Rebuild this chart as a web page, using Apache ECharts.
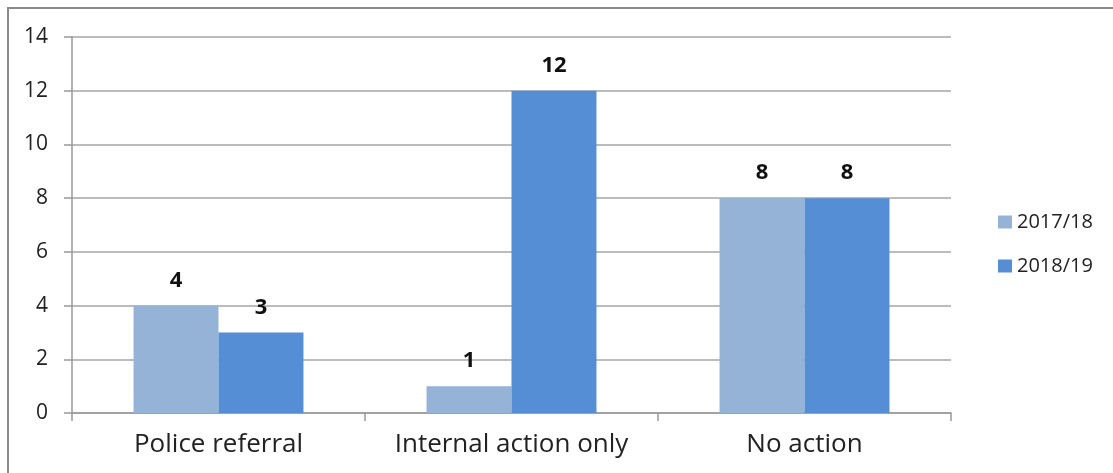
<!DOCTYPE html>
<html><head><meta charset="utf-8">
<script src="https://cdn.jsdelivr.net/npm/echarts@6/dist/echarts.min.js"></script>
<style>html,body{margin:0;padding:0;background:#fff}#c{width:1113px;height:473px}</style>
</head><body><div id="c"></div>
<script>
const categories = ['Police referral', 'Internal action only', 'No action'];
const seriesNames = ['2017/18', '2018/19'];
const values2017 = [4, 1, 8];
const values2018 = [3, 12, 8];
const colors = ['#95B3D7', '#558ED5'];
const FONT = 'Open Sans';

const chart = echarts.init(document.getElementById('c'), null, {renderer: 'canvas'});
const labelCfg = {show: true, position: 'top', distance: 14, fontFamily: FONT, fontSize: 22, fontWeight: 'bold', color: '#111'};
chart.setOption({
  animation: false,
  graphic: [{type: 'rect', shape: {x: 8, y: 8, width: 1130, height: 490}, style: {fill: 'none', stroke: '#8a8a8a', lineWidth: 2}, silent: true}],
  grid: {left: 72, right: 162, top: 37, bottom: 60},
  legend: {
    orient: 'vertical', left: 993, top: 207, itemWidth: 14, itemHeight: 13, itemGap: 24,
    icon: 'rect', textStyle: {fontFamily: FONT, fontSize: 20, color: '#222'},
    data: seriesNames
  },
  xAxis: {
    type: 'category', data: categories,
    axisLine: {lineStyle: {color: '#999', width: 1.5}},
    axisTick: {show: true, length: 8, lineStyle: {color: '#999', width: 1.5}},
    axisLabel: {interval: 0, hideOverlap: false, fontFamily: FONT, fontSize: 26, color: '#222', margin: 19}
  },
  yAxis: {
    type: 'value', min: 0, max: 14, interval: 2,
    axisLine: {show: true, lineStyle: {color: '#999', width: 1.5}},
    axisTick: {show: true, length: 8, lineStyle: {color: '#999', width: 1.5}},
    splitLine: {lineStyle: {color: '#a6a6a6', width: 1.5}},
    axisLabel: {fontFamily: FONT, fontSize: 21, color: '#222', margin: 24}
  },
  series: [
    {name: seriesNames[0], type: 'bar', data: values2017, itemStyle: {color: colors[0]}, barGap: '0%', barCategoryGap: '42%', label: labelCfg},
    {name: seriesNames[1], type: 'bar', data: values2018, itemStyle: {color: colors[1]}, barGap: '0%', barCategoryGap: '42%', label: labelCfg}
  ]
});
</script></body></html>
